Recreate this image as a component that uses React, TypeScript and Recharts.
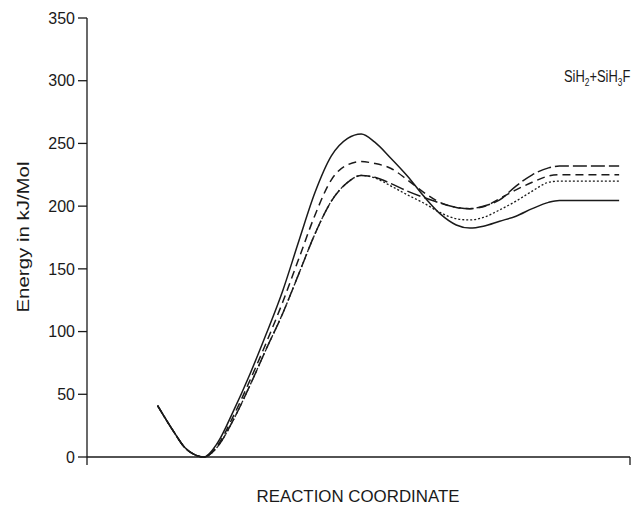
import React from 'react';
import { LineChart, Line, XAxis, YAxis, Label } from 'recharts';

// reaction coordinate (arbitrary units, 0..100 along the axis)
const coord = [13, 16, 18, 20, 21.5, 24, 27, 30, 33, 36, 39, 42, 45, 48, 50.5, 53, 56, 59, 62, 65, 68, 70.5, 73, 76, 79, 82, 85, 87, 92, 98];

// energies in kJ/mol
const solid = [41, 20, 7.5, 1.5, 0, 11, 37, 66, 98, 132, 172, 211, 240, 254, 257.5, 251, 238, 224, 208, 194, 185, 182.5, 184, 188, 192, 198, 203, 204.5, 204.5, 204.5];
const shortDash = [41, 20, 7.5, 1.5, 0, 9, 33, 61, 91, 123, 158, 193, 221, 233, 235.5, 234, 230, 221, 211, 203, 199, 198, 199.5, 206, 213, 219, 224, 225, 225, 225];
const longDash = [41, 20, 7.5, 1.5, 0, 8, 30, 57, 86, 114, 146, 178, 204, 219, 224.5, 223, 218, 212, 207, 202.5, 199, 198, 200, 205, 216, 225, 230.5, 232, 232, 232];
const dotted = [41, 20, 7.5, 1.5, 0, 8, 30, 57, 86, 114, 146, 178, 204, 219, 224.5, 222.5, 216, 209, 202.5, 195, 190, 189, 191, 197, 204, 212, 219, 220, 220, 220];

const yTicks = [0, 50, 100, 150, 200, 250, 300, 350];

const data = coord.map((x, i) => ({
  x,
  solid: solid[i],
  shortDash: shortDash[i],
  longDash: longDash[i],
  dotted: dotted[i],
}));

const INK = '#1a1a1a';
const FONT = '"Liberation Sans", Arial, sans-serif';

const noTick = () => <g />;

export default function App() {
  return (
    <div style={{ position: 'absolute', left: 0, top: 0, background: '#fff' }}>
      <LineChart width={631} height={508} data={data} margin={{ top: 18, right: 1, left: 0, bottom: 0 }}>
        <XAxis
          dataKey="x"
          type="number"
          domain={[0, 100]}
          ticks={[0, 100]}
          tick={noTick}
          tickSize={8}
          height={51}
          axisLine={{ stroke: INK, strokeWidth: 1.3 }}
          tickLine={{ stroke: INK, strokeWidth: 1.3 }}
        >
          <Label
            content={() => (
              <text x={358} y={502} textAnchor="middle" fontFamily={FONT} fontSize={16} fill={INK} textLength={203} lengthAdjust="spacingAndGlyphs">
                REACTION COORDINATE
              </text>
            )}
          />
        </XAxis>
        <YAxis
          type="number"
          domain={[0, 350]}
          ticks={yTicks}
          width={87}
          tickSize={9}
          tickMargin={3}
          tick={{ fill: INK, fontSize: 16, fontFamily: FONT }}
          axisLine={{ stroke: INK, strokeWidth: 1.3 }}
          tickLine={{ stroke: INK, strokeWidth: 1.3 }}
        >
          <Label
            content={() => (
              <g>
                <text
                  x={29}
                  y={237}
                  transform="rotate(-90 29 237)"
                  textAnchor="middle"
                  fontFamily={FONT}
                  fontSize={17}
                  fill={INK}
                  textLength={151}
                  lengthAdjust="spacingAndGlyphs"
                >
                  Energy in kJ/Mol
                </text>
                <text transform="translate(564 82) scale(0.76 1)" fontFamily={FONT} fontSize={17} fill={INK}>
                  SiH<tspan fontSize={11} dy={4}>2</tspan>
                  <tspan dy={-4}>+SiH</tspan>
                  <tspan fontSize={11} dy={4}>3</tspan>
                  <tspan dy={-4}>F</tspan>
                </text>
              </g>
            )}
          />
        </YAxis>
        <Line dataKey="solid" type="monotone" stroke={INK} strokeWidth={1.5} dot={false} isAnimationActive={false} />
        <Line dataKey="shortDash" type="monotone" stroke={INK} strokeWidth={1.5} strokeDasharray="8 5" dot={false} isAnimationActive={false} />
        <Line dataKey="longDash" type="monotone" stroke={INK} strokeWidth={1.5} strokeDasharray="14 4" dot={false} isAnimationActive={false} />
        <Line dataKey="dotted" type="monotone" stroke={INK} strokeWidth={1.3} strokeDasharray="2 2" dot={false} isAnimationActive={false} />
      </LineChart>
    </div>
  );
}
